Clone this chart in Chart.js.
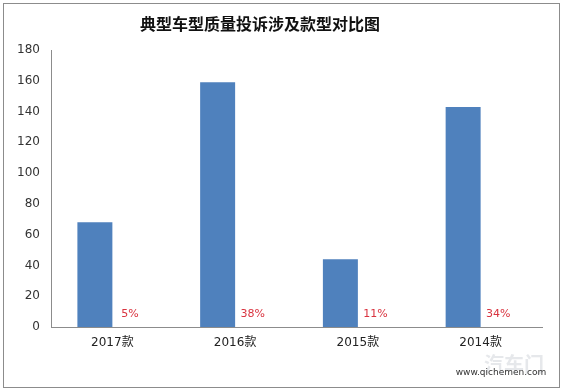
<!DOCTYPE html>
<html lang="zh">
<head>
  <meta charset="UTF-8">
  <title>典型车型质量投诉涉及款型对比图</title>
  <script src="https://cdn.jsdelivr.net/npm/chart.js"></script>
  <style>
    * { box-sizing: border-box; }
    body { margin: 0; background: #fff; }
    .frame {
      position: absolute;
      left: 3px; top: 3px;
      width: 557px; height: 385px;
      border: 1px solid #8c8c8c;
    }
    canvas { display: block; }
  </style>
</head>
<body>
<div class="frame">
  <canvas id="chart" width="555" height="383"></canvas>
</div>
<script>
  const categories = ['2017款', '2016款', '2015款', '2014款'];
  const complaints = [68, 159, 44, 143];
  const shares = ['5%', '38%', '11%', '34%'];
  const yTicks = [0, 20, 40, 60, 80, 100, 120, 140, 160, 180];

  const font = "'DejaVu Sans', 'Noto Sans CJK SC', sans-serif";

  // title, share labels and site mark
  const extras = {
    id: 'extras',
    afterDatasetsDraw(chart) {
      const ctx = chart.ctx;
      ctx.save();
      ctx.textAlign = 'center';
      ctx.textBaseline = 'middle';
      ctx.fillStyle = '#111';
      ctx.font = "bold 16px 'Noto Sans CJK SC', sans-serif";
      ctx.fillText('典型车型质量投诉涉及款型对比图', 256, 20);

      const meta = chart.getDatasetMeta(1);
      ctx.fillStyle = '#d9333f';
      ctx.font = '11px ' + font;
      meta.data.forEach((bar, i) => {
        ctx.fillText(shares[i], bar.x, chart.chartArea.bottom - 13);
      });

      ctx.fillStyle = 'rgba(200,205,210,0.45)';
      ctx.font = "bold 20px 'Noto Sans CJK SC', sans-serif";
      ctx.fillText('汽车门', 510, 360);
      ctx.fillStyle = '#333';
      ctx.font = '9px ' + font;
      ctx.fillText('www.qichemen.com', 497, 369);
      ctx.restore();
    }
  };

  new Chart(document.getElementById('chart'), {
    type: 'bar',
    data: {
      labels: categories,
      datasets: [
        {
          data: complaints,
          backgroundColor: '#4f81bd',
          categoryPercentage: 0.57,
          barPercentage: 1
        },
        {
          data: categories.map(() => 0),
          backgroundColor: 'rgba(0,0,0,0)',
          categoryPercentage: 0.57,
          barPercentage: 1
        }
      ]
    },
    options: {
      responsive: false,
      animation: false,
      layout: { padding: { top: 46, right: 17, left: 0, bottom: 0 } },
      plugins: {
        legend: { display: false },
        tooltip: { enabled: false }
      },
      scales: {
        x: {
          grid: { display: false, drawTicks: false },
          border: { color: '#8c8c8c' },
          ticks: { color: '#222', font: { size: 12, family: font }, padding: 9 },
          afterFit(scale) { scale.height = 60; }
        },
        y: {
          min: 0,
          max: 180,
          grid: { display: false, drawTicks: false },
          border: { color: '#8c8c8c' },
          afterBuildTicks(scale) { scale.ticks = yTicks.map(v => ({ value: v })); },
          ticks: { color: '#333', font: { size: 12, family: font }, padding: 11 },
          afterFit(scale) { scale.width = 47; }
        }
      }
    },
    plugins: [extras]
  });
</script>
</body>
</html>
